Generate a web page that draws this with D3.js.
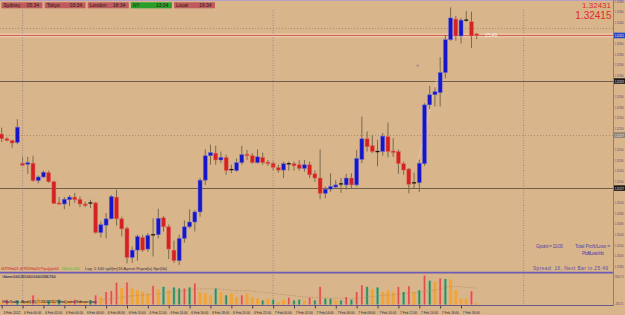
<!DOCTYPE html>
<html>
<head>
<meta charset="utf-8">
<script src="https://cdn.jsdelivr.net/npm/d3@7.9.0/dist/d3.min.js"></script>
<style>
  html, body { margin: 0; padding: 0; background: #d9b58b; }
  svg { display: block; font-family: "Liberation Sans", Arial, sans-serif; }
</style>
</head>
<body>
<svg id="chart" width="625" height="315"></svg>
<script>
// M30 bars, 3 Feb 2012 22:00 .. 7 Feb 2012 19:30
const opens = [
  1.32229, 1.32220, 1.32217, 1.32213, 1.32174, 1.32172, 1.32174, 1.32141, 1.32148, 1.32156,
  1.32139, 1.32099, 1.32097, 1.32105, 1.32110, 1.32106, 1.32097, 1.32098, 1.32099, 1.32043,
  1.32057, 1.32069, 1.32110, 1.32069, 1.32051, 1.31996, 1.32010, 1.32034, 1.32012, 1.32038,
  1.32039, 1.32071, 1.32054, 1.32010, 1.31990, 1.32032, 1.32054, 1.32063, 1.32082, 1.32142,
  1.32188, 1.32193, 1.32180, 1.32185, 1.32161, 1.32160, 1.32175, 1.32191, 1.32188, 1.32175,
  1.32185, 1.32176, 1.32174, 1.32166, 1.32161, 1.32172, 1.32173, 1.32171, 1.32164, 1.32171,
  1.32154, 1.32146, 1.32117, 1.32125, 1.32129, 1.32134, 1.32133, 1.32146, 1.32133, 1.32181,
  1.32220, 1.32207, 1.32197, 1.32196, 1.32224, 1.32197, 1.32196, 1.32173, 1.32163, 1.32135,
  1.32137, 1.32173, 1.32284, 1.32303, 1.32307, 1.32345, 1.32407, 1.32446, 1.32414, 1.32443,
  1.32441, 1.32418
];
const highs = [
  1.32241, 1.32223, 1.32218, 1.32257, 1.32186, 1.32186, 1.32188, 1.32151, 1.32160, 1.32160,
  1.32141, 1.32110, 1.32110, 1.32114, 1.32118, 1.32111, 1.32101, 1.32105, 1.32101, 1.32064,
  1.32080, 1.32114, 1.32124, 1.32073, 1.32054, 1.32017, 1.32039, 1.32039, 1.32042, 1.32070,
  1.32088, 1.32074, 1.32058, 1.32028, 1.32039, 1.32066, 1.32087, 1.32086, 1.32146, 1.32200,
  1.32209, 1.32207, 1.32196, 1.32190, 1.32171, 1.32183, 1.32207, 1.32199, 1.32193, 1.32200,
  1.32194, 1.32180, 1.32177, 1.32171, 1.32177, 1.32177, 1.32177, 1.32180, 1.32180, 1.32177,
  1.32160, 1.32200, 1.32130, 1.32155, 1.32142, 1.32146, 1.32154, 1.32155, 1.32199, 1.32262,
  1.32234, 1.32227, 1.32218, 1.32231, 1.32251, 1.32221, 1.32200, 1.32177, 1.32165, 1.32156,
  1.32181, 1.32287, 1.32320, 1.32317, 1.32374, 1.32416, 1.32468, 1.32452, 1.32448, 1.32461,
  1.32460, 1.32419
];
const lows = [
  1.32214, 1.32215, 1.32203, 1.32210, 1.32168, 1.32154, 1.32139, 1.32136, 1.32146, 1.32137,
  1.32097, 1.32096, 1.32087, 1.32093, 1.32099, 1.32091, 1.32091, 1.32089, 1.32041, 1.32034,
  1.32032, 1.32068, 1.32056, 1.32036, 1.31985, 1.31986, 1.31990, 1.32007, 1.32007, 1.31998,
  1.32032, 1.32045, 1.31993, 1.31986, 1.31982, 1.32024, 1.32051, 1.32045, 1.32073, 1.32133,
  1.32171, 1.32171, 1.32174, 1.32152, 1.32155, 1.32158, 1.32171, 1.32180, 1.32173, 1.32173,
  1.32171, 1.32169, 1.32161, 1.32156, 1.32146, 1.32160, 1.32160, 1.32160, 1.32158, 1.32146,
  1.32139, 1.32106, 1.32108, 1.32120, 1.32125, 1.32118, 1.32124, 1.32125, 1.32130, 1.32174,
  1.32196, 1.32193, 1.32168, 1.32188, 1.32185, 1.32186, 1.32154, 1.32152, 1.32117, 1.32127,
  1.32120, 1.32169, 1.32276, 1.32281, 1.32281, 1.32334, 1.32405, 1.32405, 1.32400, 1.32441,
  1.32391, 1.32408
];
const closes = [
  1.32220, 1.32217, 1.32212, 1.32242, 1.32170, 1.32175, 1.32141, 1.32148, 1.32157, 1.32139,
  1.32098, 1.32097, 1.32106, 1.32110, 1.32105, 1.32097, 1.32094, 1.32099, 1.32043, 1.32058,
  1.32069, 1.32111, 1.32069, 1.32050, 1.31996, 1.32010, 1.32036, 1.32010, 1.32038, 1.32039,
  1.32070, 1.32054, 1.32012, 1.31990, 1.32032, 1.32054, 1.32063, 1.32082, 1.32142, 1.32188,
  1.32194, 1.32180, 1.32185, 1.32160, 1.32162, 1.32175, 1.32190, 1.32188, 1.32175, 1.32186,
  1.32175, 1.32173, 1.32166, 1.32161, 1.32173, 1.32173, 1.32169, 1.32164, 1.32171, 1.32152,
  1.32146, 1.32117, 1.32125, 1.32130, 1.32133, 1.32135, 1.32146, 1.32133, 1.32183, 1.32220,
  1.32205, 1.32196, 1.32196, 1.32225, 1.32196, 1.32194, 1.32173, 1.32161, 1.32134, 1.32137,
  1.32174, 1.32284, 1.32303, 1.32309, 1.32345, 1.32407, 1.32448, 1.32414, 1.32444, 1.32444,
  1.32414, 1.32415
];

const volumes = [
  200, 470, 230, 400, 330, 400, 900, 570, 400, 400,
  470, 470, 400, 330, 470, 400, 330, 400, 900, 730,
  1230, 1330, 2130, 1570, 2170, 1570, 1400, 1230, 1070, 1830,
  1470, 1730, 1400, 1670, 1570, 1570, 1670, 2070, 1230, 1070,
  900, 1570, 1230, 900, 1070, 730, 900, 1070, 730, 570,
  400, 570, 470, 230, 470, 670, 400, 470, 400, 670,
  400, 1730, 570, 570, 400, 400, 730, 470, 1230, 1900,
  1730, 1500, 1670, 1230, 1400, 1230, 1730, 1230, 1800, 1230,
  1400, 2840, 2330, 2230, 2570, 2500, 2470, 1400, 570, 570,
  1300, 100
];
// R = climax, G = churn, N = normal
const volumeKinds = (
  "NRNGNNRNNG" + "NGNNRNNGRN" + "RRRNRNNNNR" + "NGNGGRGRNN" + "NGNGNNRNNN" +
  "GNGNNRGGNR" + "GRGGNGRGRR" + "GNGNNNRGRN" + "GRGNRGNNNN" + "RN"
).split("");

const timeTickIdx = d3.range(0, 89, 4);
const timeLabels = [
  "3 Feb 2012",
  "6 Feb 00:00", "6 Feb 02:00", "6 Feb 04:00", "6 Feb 06:00", "6 Feb 08:00", "6 Feb 10:00",
  "6 Feb 12:00", "6 Feb 14:00", "6 Feb 16:00", "6 Feb 18:00", "6 Feb 20:00", "6 Feb 22:00",
  "7 Feb 00:00", "7 Feb 02:00", "7 Feb 04:00", "7 Feb 06:00", "7 Feb 08:00", "7 Feb 10:00",
  "7 Feb 12:00", "7 Feb 14:00", "7 Feb 16:00", "7 Feb 18:00"
];
const daySeparators = [4, 52, 100];

const solidLevels = [1.32329, 1.32127];
const dottedLevels = [1.32429, 1.32227];
const bid = 1.32415;
const ask = 1.32431;
const trendIdx = [79.7, 84];
const trendPrice = [1.32176, 1.32358];

const sessionNames = ["Sydney", "Tokyo", "London", "NY", "Local"];
const sessionTimes = ["05:34", "03:34", "18:34", "13:34", "19:34"];

// ---- layout
const svg = d3.select("#chart");
const axisX = 613;
const mainBottom = 271;
const font = "Liberation Sans, Arial, sans-serif";

const x = d3.scaleLinear().domain([0, 91]).range([1.7, 476.7]);
const y = d3.scaleLinear().domain([1.3198, 1.3248]).range([266, 1]);
const vy = d3.scaleLinear().domain([0, 2846.75]).range([304.5, 275.5]);

svg.append("rect").attr("width", 625).attr("height", 315).attr("fill", "#d9b58b");

svg.append("defs").append("clipPath").attr("id", "mainClip")
  .append("rect").attr("x", 0).attr("y", 0).attr("width", axisX).attr("height", mainBottom);

const main = svg.append("g").attr("clip-path", "url(#mainClip)");

// user levels
main.selectAll("line.solid").data(solidLevels).join("line")
  .attr("x1", 0).attr("x2", axisX)
  .attr("y1", d => Math.round(y(d)) + 0.5).attr("y2", d => Math.round(y(d)) + 0.5)
  .attr("stroke", "#6e5f48").attr("stroke-width", 1.2);
main.selectAll("line.dotted").data(dottedLevels).join("line")
  .attr("x1", 0).attr("x2", axisX)
  .attr("y1", d => Math.round(y(d)) + 0.5).attr("y2", d => Math.round(y(d)) + 0.5)
  .attr("stroke", "#9a8468").attr("stroke-width", 0.8).attr("stroke-dasharray", "1,2");

// day separators
svg.selectAll("line.sep").data(daySeparators).join("line")
  .attr("x1", d => x(d)).attr("x2", d => x(d))
  .attr("y1", 10).attr("y2", 305)
  .attr("stroke", "#9a8090").attr("stroke-width", 0.9).attr("stroke-dasharray", "1,1.5");

// bid line band
main.append("rect").attr("x", 0).attr("width", axisX)
  .attr("y", y(bid) - 2).attr("height", 4).attr("fill", "#eec6a8");
main.append("line").attr("x1", 0).attr("x2", axisX)
  .attr("y1", y(bid)).attr("y2", y(bid))
  .attr("stroke", "#c8604c").attr("stroke-width", 1);

// trend dots (behind candles)
main.append("line")
  .attr("x1", x(trendIdx[0])).attr("y1", y(trendPrice[0]))
  .attr("x2", x(trendIdx[1])).attr("y2", y(trendPrice[1]))
  .attr("stroke", "#ece2e8").attr("stroke-width", 0.8).attr("stroke-dasharray", "1,1.5");
main.append("rect").attr("x", x(79.7) - 1).attr("y", y(1.32358) - 1).attr("width", 2).attr("height", 2).attr("fill", "#9c8c88");
main.append("rect").attr("x", x(79.7) - 1).attr("y", y(1.32283) - 1).attr("width", 2).attr("height", 2).attr("fill", "#e4a48c");

// candles
const candles = d3.range(opens.length).map(i => ({
  i, o: opens[i], h: highs[i], l: lows[i], c: closes[i]
}));
const bodyW = 4;
const isDoji = d => Math.abs(d.o - d.c) <= 0.00002;

main.selectAll("line.wick").data(candles).join("line")
  .attr("x1", d => x(d.i)).attr("x2", d => x(d.i))
  .attr("y1", d => y(d.h)).attr("y2", d => y(d.l))
  .attr("stroke", "#7a6a4c").attr("stroke-width", 1);

main.selectAll("rect.body").data(candles).join("rect")
  .attr("x", d => x(d.i) - bodyW / 2)
  .attr("y", d => isDoji(d) ? y(d.c) - 0.6 : y(Math.max(d.o, d.c)))
  .attr("width", bodyW)
  .attr("height", d => isDoji(d) ? 1.3 : Math.max(1.2, Math.abs(y(d.o) - y(d.c))))
  .attr("fill", d => isDoji(d) ? "#1a1410" : (d.c > d.o ? "#1616c8" : "#d42222"))
  .attr("stroke", d => isDoji(d) ? "none" : (d.c > d.o ? "#7070d8" : "#e0705c"))
  .attr("stroke-width", 0.5);

// time-to-bar label at bid
main.append("text").attr("x", 485).attr("y", y(bid) + 1.5)
  .attr("font-size", 5).attr("fill", "#f4ece4").attr("textLength", 12).text("25:49");

// ---- session bar
const sx = d3.scaleBand().domain(sessionNames).range([1.5, 215]).paddingInner(0.05);
const sess = svg.append("g");
sess.selectAll("rect").data(sessionNames).join("rect")
  .attr("x", d => sx(d)).attr("y", 2.3).attr("width", sx.bandwidth()).attr("height", 6)
  .attr("fill", d => d === "NY" ? "#2a9e2a" : "#c05a5c");
sess.selectAll("text.name").data(sessionNames).join("text")
  .attr("x", d => sx(d) + 2).attr("y", 7.3).attr("font-size", 5).attr("fill", "#2c1a18")
  .text(d => d);
sess.selectAll("text.time").data(sessionNames).join("text")
  .attr("x", d => sx(d) + 25).attr("y", 7.3).attr("font-size", 5).attr("fill", "#2c1a18")
  .text((d, i) => sessionTimes[i]);

// bid / ask quote
svg.append("text").attr("x", 611).attr("y", 8.2).attr("text-anchor", "end")
  .attr("font-size", 8).attr("fill", "#e02a2a").text(ask.toFixed(5));
svg.append("text").attr("x", 611.5).attr("y", 18.6).attr("text-anchor", "end")
  .attr("font-size", 10).attr("fill", "#e02a2a").text(bid.toFixed(5));

// indicator caption in main window
const cap = svg.append("text").attr("y", 270).attr("font-size", 4.3);
cap.append("tspan").attr("x", 1).attr("fill", "#d02c2c").attr("textLength", 58)
  .text("iSTRH=21  iSTRZH=20  Pips(p)=16");
cap.append("tspan").attr("x", 62).attr("fill", "#5cc040").attr("textLength", 18).text("MinDis:100");
cap.append("tspan").attr("x", 85).attr("fill", "#3a3040").attr("textLength", 82)
  .text("Lvg: 1:100  sp0(m)16  Aprset  Rsprd(a)  Spr(0b)");

// bottom-right info
const info = svg.append("g").attr("font-size", 4.8).attr("fill", "#5848a8");
info.append("text").attr("x", 536).attr("y", 247.5).attr("textLength", 27).text("Gpoint = 10.00");
info.append("text").attr("x", 575).attr("y", 247.5).attr("textLength", 35).text("Total Profit/Loss =");
info.append("text").attr("x", 582).attr("y", 255).attr("textLength", 22).text("Profit/Loss Info");
info.append("text").attr("x", 533).attr("y", 270).attr("textLength", 75)
  .text("Spread: 16, Next Bar in 25:49");

// window separator + top border
svg.append("line").attr("x1", 0).attr("x2", axisX).attr("y1", 272.6).attr("y2", 272.6)
  .attr("stroke", "#6c5cb4").attr("stroke-width", 1.8);
svg.append("line").attr("x1", 0).attr("x2", 625).attr("y1", 0.5).attr("y2", 0.5)
  .attr("stroke", "#b8a0c4").attr("stroke-width", 1);

// ---- volume window
const kindColor = { R: "#e0504a", G: "#2e8a5c", N: "#f2a437" };
const kindHalo = { R: "#eea08e", G: "#8cb890", N: "#f2a437" };
const vol = svg.append("g");
vol.selectAll("rect.halo").data(volumes).join("rect")
  .attr("x", (d, i) => x(i) - 1.5).attr("width", 3)
  .attr("y", d => vy(d)).attr("height", d => vy(0) - vy(d))
  .attr("fill", (d, i) => kindHalo[volumeKinds[i]]);
vol.selectAll("rect.bar").data(volumes).join("rect")
  .attr("x", (d, i) => x(i) - 0.8).attr("width", 1.6)
  .attr("y", d => vy(d)).attr("height", d => vy(0) - vy(d))
  .attr("fill", (d, i) => kindColor[volumeKinds[i]]);

const maPeriod = 20;
const ma = volumes.map((v, i) => i < maPeriod - 1 ? null : d3.mean(volumes.slice(i - maPeriod + 1, i + 1)));
vol.append("path")
  .datum(ma.map((v, i) => [i, v]).filter(d => d[1] !== null))
  .attr("fill", "none").attr("stroke", "#b2825a").attr("stroke-width", 0.8)
  .attr("stroke-dasharray", "1,1.5")
  .attr("d", d3.line().x(d => x(d[0])).y(d => vy(d[1])));

svg.append("text").attr("x", 2).attr("y", 278.2).attr("font-size", 4.3).attr("fill", "#2a2850")
  .attr("textLength", 54).text("Volume 0.000 282.0000 0.0000 2846.7500");
svg.append("text").attr("x", 2).attr("y", 303).attr("font-size", 4.3).attr("fill", "#2a2440")
  .attr("textLength", 95).text("MetaTrader - Alpari (UK), © 2001-2012 MetaQuotes Software Corp.");

// ---- price axis (labels squeezed horizontally so they fit the 12px strip)
const squeeze = "scale(0.58,1)";
const tags = [
  { p: solidLevels[0], fill: "#1e1a16", text: "#f0e8e0" },
  { p: solidLevels[1], fill: "#1e1a16", text: "#f0e8e0" },
  { p: dottedLevels[1], fill: "#8c8372", text: "#f0e8e0" },
  { p: bid, fill: "#2c44c0", text: "#f4e4e4" }
];
const priceTicks = y.ticks(25).filter(t => tags.every(g => Math.abs(y(t) - y(g.p)) > 5));

const rightAxis = svg.append("g").attr("transform", `translate(${axisX},0)`)
  .call(d3.axisRight(y).tickValues(priceTicks).tickFormat(d3.format(".5f")).tickSize(1).tickPadding(0.5));
rightAxis.select(".domain").remove();
rightAxis.selectAll("line").attr("stroke", "#7a6890");
rightAxis.selectAll("text").attr("font-size", 4.3).attr("fill", "#5a4c78")
  .attr("font-family", font).attr("x", 0).attr("transform", `translate(1.6,0) ${squeeze}`);

svg.append("line").attr("x1", axisX + 0.5).attr("x2", axisX + 0.5).attr("y1", 0).attr("y2", 306)
  .attr("stroke", "#8a78a8").attr("stroke-width", 1);

// highlighted level tags on axis
const tagG = svg.append("g").selectAll("g").data(tags).join("g")
  .attr("transform", d => `translate(${axisX + 1},${y(d.p)})`);
tagG.append("rect").attr("x", 0).attr("y", -2.8).attr("width", 11).attr("height", 5.6).attr("fill", d => d.fill);
tagG.append("text").attr("y", 1.5).attr("font-size", 4.3).attr("fill", d => d.text)
  .attr("transform", `translate(0.8,0) ${squeeze}`)
  .text(d => d.p.toFixed(5));

// volume axis labels
const volAxisLabels = [[2846.75, 278], [-283.25, 304.5]];
svg.selectAll("text.vlab").data(volAxisLabels).join("text")
  .attr("transform", d => `translate(614.6,${d[1]}) ${squeeze}`)
  .attr("font-size", 4.3).attr("fill", "#5a4c78").text(d => d[0].toFixed(2));

// ---- time axis
svg.append("line").attr("x1", 0).attr("x2", axisX).attr("y1", 305.5).attr("y2", 305.5)
  .attr("stroke", "#6a5a8a").attr("stroke-width", 1);
const bottomAxis = svg.append("g").attr("transform", "translate(0,305.5)")
  .call(d3.axisBottom(x).tickValues(timeTickIdx).tickFormat((d, i) => timeLabels[i]).tickSize(3).tickPadding(1));
bottomAxis.select(".domain").remove();
bottomAxis.selectAll("line").attr("stroke", "#4a3c5a");
bottomAxis.selectAll("text").attr("font-size", 4.3).attr("fill", "#2a2238")
  .attr("text-anchor", "start").attr("dx", 1.2).attr("y", 5)
  .attr("font-family", font).attr("textLength", 17).attr("lengthAdjust", "spacingAndGlyphs");
</script>
</body>
</html>
